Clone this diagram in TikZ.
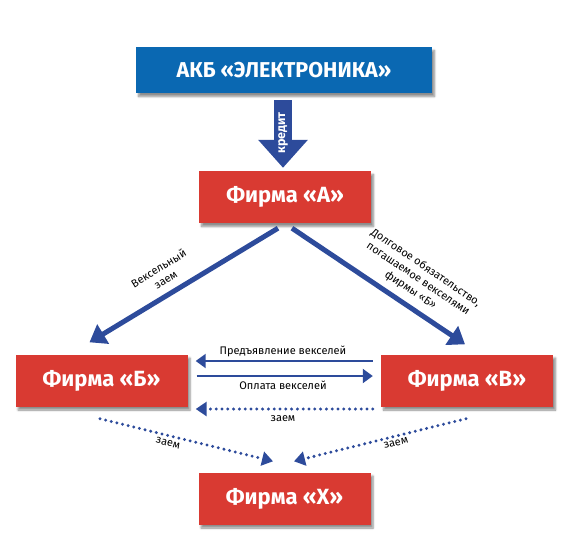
\documentclass[tikz,border=0pt]{standalone}
\usepackage{fontspec}
\setmainfont{Fira Sans}
\usetikzlibrary{arrows.meta,calc,shadows.blur}
\definecolor{akbblue}{RGB}{10,104,178}
\definecolor{firmred}{RGB}{217,58,50}
\definecolor{arrblue}{RGB}{45,75,155}
\begin{document}
\begin{tikzpicture}[x=1pt,y=-1pt,
  shad/.style={blur shadow={shadow xshift=2.5pt, shadow yshift=-3.5pt, shadow blur steps=6, shadow opacity=45}},
  firmbox/.style={fill=firmred, minimum width=172pt, minimum height=52pt, inner sep=0pt, text=white, font=\bfseries\fontsize{22}{26}\selectfont, shad},
  akbbox/.style={fill=akbblue, minimum width=296pt, minimum height=46pt, inner sep=0pt, text=white, font=\bfseries\fontsize{21.5}{25}\selectfont, shad},
  lbl/.style={font=\fontsize{11}{13.5}\selectfont, inner sep=1pt, align=center},
  bigarrow/.style={draw=arrblue, line width=5pt, -{Triangle[length=16pt,width=22pt]}},
  thinarrow/.style={draw=arrblue, line width=2pt, -{Triangle[length=10pt,width=14pt]}},
  dotarrow/.style={draw=arrblue, line width=3.3pt, line cap=round, dash pattern=on 0pt off 5.8pt, -{Triangle[length=11pt,width=14pt]}}
]
\useasboundingbox (0,0) rectangle (565,544);

\node[akbbox] (akb) at (284,70) {АКБ «ЭЛЕКТРОНИКА»};
\node[firmbox] (fA) at (285,197) {Фирма «А»};
\node[firmbox] (fB) at (101.5,380.5) {Фирма «Б»};
\node[firmbox] (fV) at (467,380.5) {Фирма «В»};
\node[firmbox] (fX) at (284.5,498.5) {Фирма «Х»};

% credit arrow
\draw[draw=arrblue, line width=18pt, -{Triangle[length=28pt,width=48pt]}, shorten <=7pt, shorten >=3pt] ($(akb.south)+(-1,0)$) -- ($(akb.south |- fA.north)+(-1,0)$);
\node[rotate=90, text=white, font=\bfseries\fontsize{12.5}{14}\selectfont, inner sep=0pt] (kr) at (283,133) {кредит};

% diagonal arrows
\coordinate (l1) at ($(fA.south)+(-7,5)$);
\coordinate (l2) at ($(fB.north)+(-12,-12)$);
\coordinate (r1) at ($(fA.south)+(7,5)$);
\coordinate (r2) at ($(fV.north)+(-2,-10)$);
\draw[bigarrow] (l1) -- (l2);
\draw[bigarrow] (r1) -- (r2);
\node[lbl, rotate=31.5] (lv) at (162,274) {Вексельный\\заем};
\node[lbl, rotate=-34] (ld) at (418,279) {Долговое обязательство,\\погашаемое векселями\\фирмы «Б»};

% horizontal arrows
\coordinate (h1a) at ($(fV.west)+(-8,-19.5)$);
\coordinate (h1b) at ($(fB.east)+(8,-19.5)$);
\coordinate (h2a) at ($(fB.east)+(9,-4.5)$);
\coordinate (h2b) at ($(fV.west)+(-8,-4.5)$);
\coordinate (h3a) at ($(fV.west)+(-8,28.5)$);
\coordinate (h3b) at ($(fB.east)+(8,28.5)$);
\draw[thinarrow] (h1a) -- (h1b);
\draw[thinarrow] (h2a) -- (h2b);
\draw[dotarrow] (h3a) -- (h3b);
\node[lbl] (t1) at (283,351) {Предъявление векселей};
\node[lbl] (t2) at (283,385) {Оплата векселей};
\node[lbl] (t3) at (283,419) {заем};

% dotted diagonals
\coordinate (d1a) at ($(fB.south)+(-1.5,12)$);
\coordinate (d1b) at ($(fX.north)+(-11.5,-11)$);
\coordinate (d2a) at ($(fV.south)+(-1,12)$);
\coordinate (d2b) at ($(fX.north)+(9.5,-11)$);
\draw[dotarrow] (d1a) -- (d1b);
\draw[dotarrow] (d2a) -- (d2b);
\node[lbl, rotate=-14] (t4) at (168,443) {заем};
\node[lbl, rotate=14] (t5) at (396,443) {заем};
\end{tikzpicture}
\end{document}
